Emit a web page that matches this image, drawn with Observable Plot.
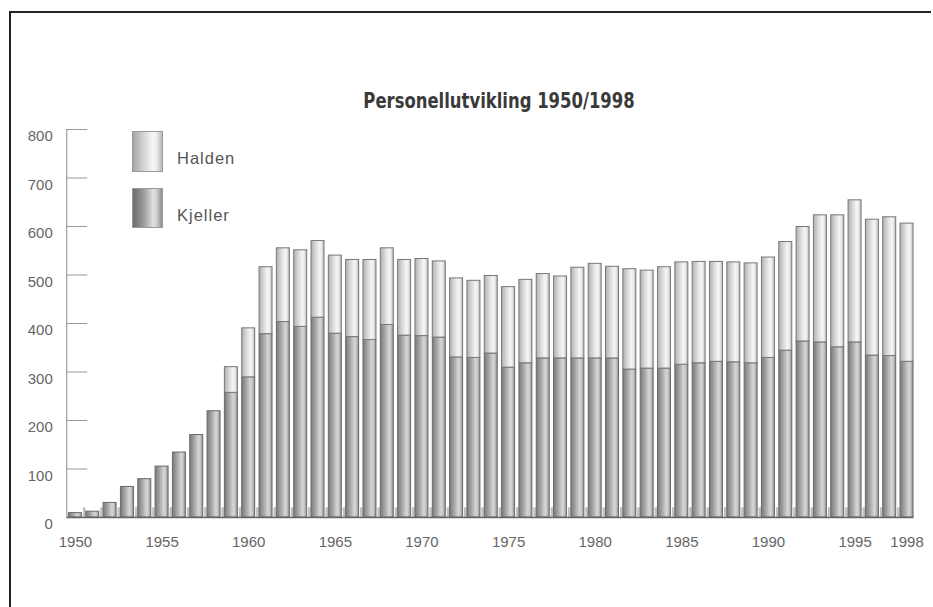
<!DOCTYPE html>
<html><head><meta charset="utf-8">
<script src="https://cdn.jsdelivr.net/npm/d3@7"></script>
<script src="https://cdn.jsdelivr.net/npm/@observablehq/plot@0.6"></script>
<style>
html,body{margin:0;padding:0;overflow:hidden;background:#fff;}
body{width:933px;height:607px;position:relative;font-family:"Liberation Sans",Arial,sans-serif;}
#fh{position:absolute;left:9px;top:11px;width:922px;height:2px;background:#222;}
#fv{position:absolute;left:9px;top:11px;width:2px;height:596px;background:#222;}
#title{position:absolute;left:249px;width:500px;top:89px;text-align:center;font-family:"Liberation Sans Narrow","DejaVu Sans Condensed","Arial Narrow",sans-serif;font-stretch:condensed;font-weight:bold;font-size:21px;color:#3a3a3a;line-height:24px;transform:scaleX(0.87);transform-origin:250px 0;}
#chart{position:absolute;left:0;top:120px;width:933px;height:440px;}
.sw{position:absolute;left:132px;width:29px;border:1px solid #9a9a9a;}
.lt{position:absolute;left:177px;font-size:16.5px;letter-spacing:1px;color:#555;line-height:20px;}
</style></head>
<body>
<div id="fh"></div><div id="fv"></div>
<div id="title">Personellutvikling 1950/1998</div>
<div id="chart"></div>
<div class="sw" style="top:131px;height:39px;background:linear-gradient(to right,#a6a6a6,#d8d8d8 40%,#f6f6f6 68%,#f0f0f0 80%,#b8b8b8);"></div>
<div class="lt" style="top:148px;">Halden</div>
<div class="sw" style="top:188px;height:38px;background:linear-gradient(to right,#6c6c6c,#a0a0a0 40%,#e2e2e2 70%,#cfcfcf 82%,#8e8e8e);"></div>
<div class="lt" style="top:205px;">Kjeller</div>
<script>
const years = [1950,1951,1952,1953,1954,1955,1956,1957,1958,1959,
  1960,1961,1962,1963,1964,1965,1966,1967,1968,1969,
  1970,1971,1972,1973,1974,1975,1976,1977,1978,1979,
  1980,1981,1982,1983,1984,1985,1986,1987,1988,1989,
  1990,1991,1992,1993,1994,1995,1996,1997,1998];
const kjeller = [9,12,30,63,79,105,134,170,219,257,
  289,378,403,393,412,379,372,366,397,375,
  374,371,330,329,338,309,318,328,328,328,
  328,328,305,307,307,315,318,321,320,318,
  329,344,363,361,351,361,334,333,321];
const halden = [0,0,0,0,0,0,0,0,0,53,
  101,138,152,158,158,161,159,165,158,156,
  159,157,163,159,160,166,172,174,169,187,
  195,189,207,202,209,211,209,206,206,206,
  207,224,236,262,272,293,280,286,285];
const yTicks = [0,100,200,300,400,500,600,700,800];
const xTicks = [1950,1955,1960,1965,1970,1975,1980,1985,1990,1995,1998];

const data = years.map((y,i)=>({year:y, kjeller:kjeller[i], halden:halden[i]}));
const half = 0.375;
const x0 = years[0]-0.5, xN = years[years.length-1]+0.5;
const gaps = years.slice(0,-1).map(y=>y+0.5);

const svg = Plot.plot({
  width: 933, height: 440,
  marginTop: 9, marginBottom: 43, marginLeft: 66.3, marginRight: 17.8,
  x: {domain:[x0, xN], axis: null},
  y: {domain:[0,800], axis: null},
  style: {fontFamily: '"Liberation Sans", Arial, sans-serif', background: "transparent"},
  marks: [
    Plot.ruleX(gaps, {x: d=>d, y1: 0, y2: 20, stroke: "#c0c0c0", strokeWidth: 2.5}),
    Plot.rect(data, {x1: d=>d.year-half, x2: d=>d.year+half, y1: 0, y2: "kjeller", fill: "url(#gK)", stroke: "#6a6a6a", strokeWidth: 1}),
    Plot.rect(data.filter(d=>d.halden>0), {x1: d=>d.year-half, x2: d=>d.year+half, y1: "kjeller", y2: d=>d.kjeller+d.halden, fill: "url(#gH)", stroke: "#787878", strokeWidth: 1}),
    Plot.ruleX([x0], {y1: 0, y2: 800, stroke: "#8a8a8a", strokeWidth: 1}),
    Plot.ruleY(yTicks.filter(d=>d>0), {y: d=>d, x1: x0, x2: x0+1.21, stroke: "#9a9a9a", strokeWidth: 1}),
    Plot.ruleY([0], {x1: x0, x2: xN-0.1, stroke: "#666", strokeWidth: 1.5}),
    Plot.text(yTicks, {x: x0, y: d=>d, text: d=>String(d), dx: -14, dy: 7, textAnchor: "end", fill: "#666", fontSize: 15}),
    Plot.text(xTicks, {x: d=>d, y: 0, text: d=>String(d), dy: 25, fill: "#666", fontSize: 15})
  ]
});
const defs = d3.select(svg).insert("defs", ":first-child");
function grad(id, stops){
  const g = defs.append("linearGradient").attr("id", id).attr("x1","0").attr("x2","1").attr("y1","0").attr("y2","0");
  stops.forEach(([o,c])=>g.append("stop").attr("offset",o).attr("stop-color",c));
}
grad("gK", [[0,"#7a7a7a"],[0.35,"#a6a6a6"],[0.68,"#d6d6d6"],[0.82,"#c6c6c6"],[1,"#8c8c8c"]]);
grad("gH", [[0,"#b0b0b0"],[0.35,"#d8d8d8"],[0.66,"#f5f5f5"],[0.8,"#ececec"],[1,"#b8b8b8"]]);
document.getElementById("chart").appendChild(svg);
</script>
</body></html>
